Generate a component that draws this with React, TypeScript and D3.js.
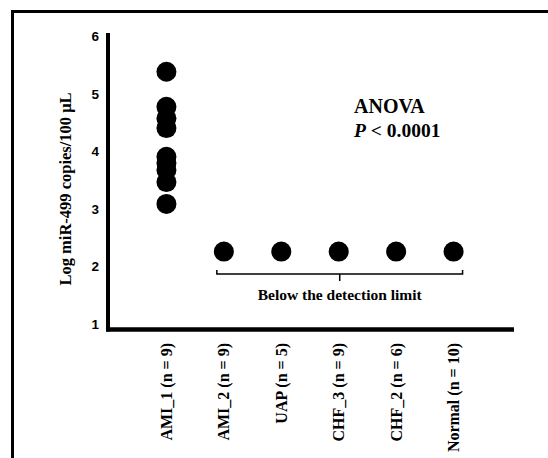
import React from "react";
import * as d3 from "d3";

const categories = ["AMI_1 (n = 9)", "AMI_2 (n = 9)", "UAP (n = 5)", "CHF_3 (n = 9)", "CHF_2 (n = 6)", "Normal (n = 10)"];
const ami1Values = [5.39, 4.78, 4.58, 4.41, 3.91, 3.8, 3.68, 3.47, 3.09];
const belowLimitValue = 2.26;
const belowLimitGroups = ["AMI_2 (n = 9)", "UAP (n = 5)", "CHF_3 (n = 9)", "CHF_2 (n = 6)", "Normal (n = 10)"];
const yTicks = [1, 2, 3, 4, 5, 6];

const W = 548;
const H = 458;
const serif = "'Liberation Serif', 'Times New Roman', serif";
const sans = "'Liberation Sans', Arial, sans-serif";

export default function App() {
  const x = d3.scalePoint<string>().domain(categories).range([109, 511]).padding(1);
  const y = d3.scaleLinear().domain([1, 6]).range([324, 36.7]);
  const axisX = 108;
  const axisY = 329.5;
  const r = 10;

  const points: { cat: string; v: number }[] = [
    ...ami1Values.map((v) => ({ cat: categories[0], v })),
    ...belowLimitGroups.map((c) => ({ cat: c, v: belowLimitValue })),
  ];

  const bl = (x(belowLimitGroups[0]) as number) - 7;
  const br = (x(belowLimitGroups[belowLimitGroups.length - 1]) as number) + 9;
  const bm = (bl + br) / 2;
  const bTop = 270;
  const bLine = 274;

  return (
    <svg width={W} height={H} style={{ position: "absolute", left: 0, top: 0, background: "#fff" }}>
      <rect x={0} y={0} width={W} height={H} fill="#fff" />
      {/* frame */}
      <line x1={12.5} y1={10} x2={12.5} y2={H} stroke="#000" strokeWidth={3} />
      <line x1={11} y1={11.5} x2={W} y2={11.5} stroke="#000" strokeWidth={3} />

      {/* axes */}
      <line x1={axisX} y1={33} x2={axisX} y2={axisY + 2} stroke="#000" strokeWidth={4} />
      <line x1={axisX - 2} y1={axisY} x2={514} y2={axisY} stroke="#000" strokeWidth={4.5} />

      {yTicks.map((t) => (
        <text key={t} x={99} y={y(t)} dy="0.35em" textAnchor="end" fontFamily={sans} fontWeight="bold" fontSize={13.5}>
          {t}
        </text>
      ))}

      <text
        transform={`translate(65,${189}) rotate(-90)`}
        textAnchor="middle"
        dy="0.35em"
        fontFamily={serif}
        fontWeight="bold"
        fontSize={16.5}
      >
        Log miR-499 copies/100 μL
      </text>

      {categories.map((c) => (
        <text
          key={c}
          transform={`translate(${x(c)},343) rotate(-90)`}
          textAnchor="end"
          dy="0.35em"
          fontFamily={serif}
          fontWeight="bold"
          fontSize={16}
        >
          {c}
        </text>
      ))}

      {points.map((p, i) => (
        <circle key={i} cx={x(p.cat)} cy={y(p.v)} r={r} fill="#000" />
      ))}

      {/* bracket */}
      <path
        d={`M${bl},${bTop} L${bl},${bLine} L${br},${bLine} L${br},${bTop} M${bm},${bLine} L${bm},${bLine + 7}`}
        fill="none"
        stroke="#000"
        strokeWidth={1.5}
      />
      <text x={bm} y={300} textAnchor="middle" fontFamily={serif} fontWeight="bold" fontSize={15.5}>
        Below the detection limit
      </text>

      <text x={354} y={113} fontFamily={serif} fontWeight="bold" fontSize={20}>
        ANOVA
      </text>
      <text x={354} y={137} fontFamily={serif} fontWeight="bold" fontSize={19.5}>
        <tspan fontStyle="italic">P</tspan> &lt; 0.0001
      </text>
    </svg>
  );
}
